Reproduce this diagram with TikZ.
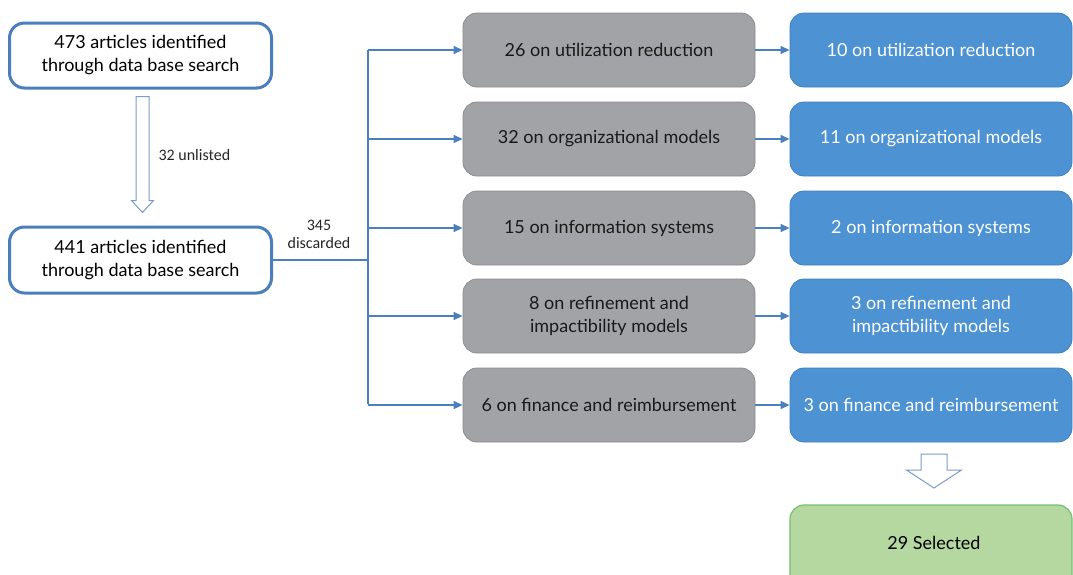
\documentclass[tikz,border=0pt]{standalone}
\usepackage{fontspec}
\setmainfont{Lato}
\newfontfamily\notefont{Carlito}
\usetikzlibrary{arrows.meta,calc}
\definecolor{frameblue}{HTML}{4A7EBD}
\definecolor{lineblue}{HTML}{4A7FC2}
\definecolor{greyfill}{HTML}{A2A3A6}
\definecolor{greyedge}{HTML}{8B8C8F}
\definecolor{bluefill}{HTML}{4D92D3}
\definecolor{blueedge}{HTML}{3F80C0}
\definecolor{greenfill}{HTML}{B5D7A0}
\definecolor{greenedge}{HTML}{72C172}
\definecolor{hollowedge}{HTML}{7B9CCB}
\tikzset{
  boxtext/.style={font=\fontsize{18}{23}\selectfont},
  srcbox/.style={boxtext, draw=frameblue, line width=3pt, rounded corners=15pt, fill=white,
    minimum width=262pt, minimum height=65pt, align=center, text=black},
  greybox/.style={boxtext, draw=greyedge, line width=0.8pt, fill=greyfill, rounded corners=14pt,
    minimum width=292pt, minimum height=74pt, align=center, text=black!90},
  bluebox/.style={boxtext, draw=blueedge, line width=0.8pt, fill=bluefill, rounded corners=14pt,
    minimum width=282pt, minimum height=74pt, align=center, text=white},
  greenbox/.style={boxtext, draw=greenedge, line width=1.2pt, fill=greenfill, rounded corners=14pt,
    minimum width=282pt, minimum height=86pt, text=black},
  conn/.style={draw=lineblue, line width=1.3pt},
  feed/.style={conn, -{Triangle[length=9pt,width=8pt]}},
  hollow/.style={draw=hollowedge, line width=1pt, fill=white, line join=miter},
  note/.style={font=\notefont\fontsize{16}{18}\selectfont, text=black!85, align=center}
}
% hollow block arrow: top centre, tip, shaft half width, head half width, head length
\newcommand\blockarrow[5]{%
  \draw[hollow] ($(#1)+(-#3,0)$) -- ($(#2)+(-#3,-#5)$) -- ($(#2)+(-#4,-#5)$) -- (#2)
    -- ($(#2)+(#4,-#5)$) -- ($(#2)+(#3,-#5)$) -- ($(#1)+(#3,0)$) -- cycle;}
\begin{document}
\begin{tikzpicture}[x=1pt,y=-1pt]
\useasboundingbox (0,0) rectangle (1073,574);
\clip (0,0) rectangle (1073,574);

% literature search
\node[srcbox] (found) at (140.5,55.5) {473 articles identified\\through data base search};
\node[srcbox, minimum height=66pt] (kept) at (140.5,260) {441 articles identified\\through data base search};
\coordinate (dropTop) at ($(found.south)+(2,7)$);
\coordinate (dropTip) at ($(kept.north)+(2,-13)$);
\blockarrow{dropTop}{dropTip}{6.5}{11}{12}
\node[note, anchor=west] (unlisted) at (155,155) {32 unlisted};

% split into topics
\coordinate (split) at (368,260);
\coordinate (top) at (368,50);
\coordinate (bottom) at (368,404);
\node[note] (discarded) at (319,234) {345\\discarded};

\node[greybox] (g1) at (609,50) {26 on utilization reduction};
\node[greybox] (g2) at (609,139) {32 on organizational models};
\node[greybox] (g3) at (609,228) {15 on information systems};
\node[greybox] (g4) at (609,316) {8 on refinement and\\impactibility models};
\node[greybox] (g5) at (609,405) {6 on finance and reimbursement};

\node[bluebox] (b1) at (931,50) {10 on utilization reduction};
\node[bluebox] (b2) at (931,139) {11 on organizational models};
\node[bluebox] (b3) at (931,228) {2 on information systems};
\node[bluebox] (b4) at (931,316) {3 on refinement and\\impactibility models};
\node[bluebox] (b5) at (931,405) {3 on finance and reimbursement};

\node[greenbox] (sel) at (931,548) {};
\node[boxtext] (seltext) at (934,543) {29 Selected};
\coordinate (mergeTop) at (934,454);
\coordinate (mergeTip) at (934,488);
\blockarrow{mergeTop}{mergeTip}{13}{27.5}{18}

% connectors
\draw[conn] (kept.east) -- (split);
\draw[conn] (top) -- (bottom);
\foreach \i/\y in {1/50,2/139,3/228,4/316,5/405}{
  \draw[feed] (368,\y) -- (g\i.west);
  \draw[feed] (g\i.east) -- (b\i.west);
}
\end{tikzpicture}
\end{document}
